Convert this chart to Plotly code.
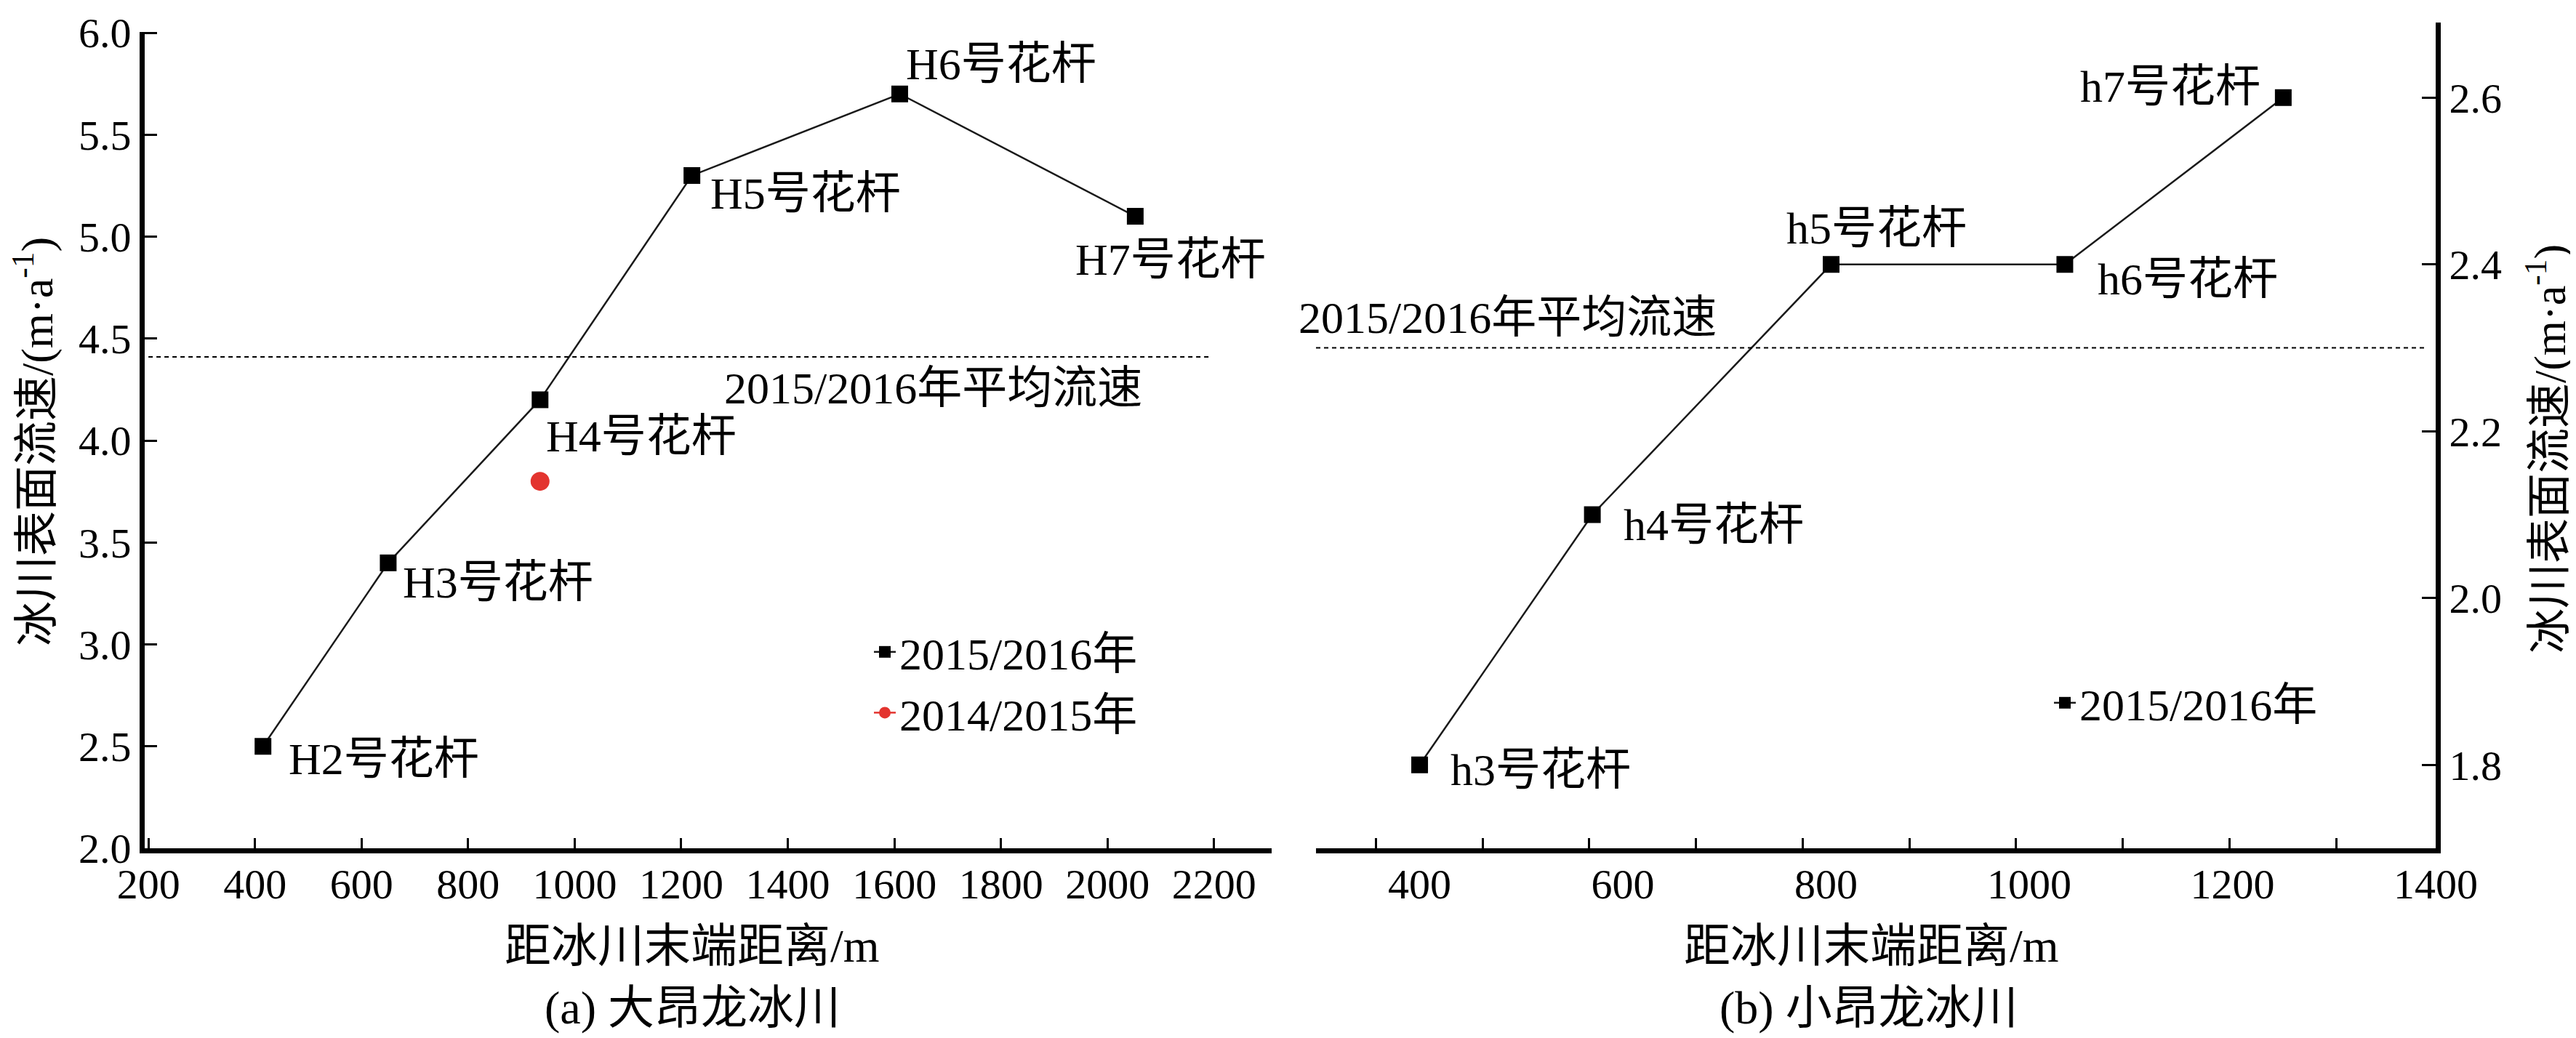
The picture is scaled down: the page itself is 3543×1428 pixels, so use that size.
import plotly.graph_objects as go

# ---------------- data ----------------
# (a) 大昂龙冰川
a_names = ["H2号花杆", "H3号花杆", "H4号花杆", "H5号花杆", "H6号花杆", "H7号花杆"]
a_dist = [415, 650, 935, 1220, 1610, 2052]
a_v1516 = [2.5, 3.4, 4.2, 5.3, 5.7, 5.1]
a_dist_1415 = [935]
a_v1415 = [3.8]
a_mean = 4.41
a_mean_x = [200, 2190]

# (b) 小昂龙冰川
b_names = ["h3号花杆", "h4号花杆", "h5号花杆", "h6号花杆", "h7号花杆"]
b_dist = [400, 570, 805, 1035, 1250]
b_v1516 = [1.8, 2.1, 2.4, 2.4, 2.6]
b_mean = 2.3
b_mean_x = [298, 1392]

a_xticks = list(range(200, 2201, 200))
b_xticks = list(range(400, 1401, 200))
a_yticks = [2.0, 2.5, 3.0, 3.5, 4.0, 4.5, 5.0, 5.5, 6.0]
b_yticks = [1.8, 2.0, 2.2, 2.4, 2.6]

# ---------------- style ----------------
W, H = 3543, 1428
FONT = "Liberation Serif, Noto Sans CJK SC, serif"
FS = 62
TFS = 64
TICKFS = 58
AXW = 7
BOTTOM = 1159

a_label_off = [("left", 33, -17), ("left", 18, -27), ("left", 6, -50),
               ("left", 23, -25), ("left", 7, 41), ("left", -84, -59)]
b_label_off = [("left", 40, -7), ("left", 41, -14), ("left", -64, 50),
               ("left", 43, -20), ("right", -29, 15)]

fig = go.Figure()

line_style = dict(color="#1a1a1a", width=2.5)
sq = dict(symbol="square", size=23, color="black")

fig.add_trace(go.Scatter(x=a_dist, y=a_v1516, mode="lines+markers", name="2015/2016年",
                         line=line_style, marker=sq, xaxis="x", yaxis="y", legend="legend"))
fig.add_trace(go.Scatter(x=a_dist_1415, y=a_v1415, mode="lines+markers", name="2014/2015年",
                         line=dict(color="#e3342f", width=2.5),
                         marker=dict(symbol="circle", size=26, color="#e3342f"),
                         xaxis="x", yaxis="y", legend="legend"))
fig.add_trace(go.Scatter(x=a_mean_x, y=[a_mean, a_mean], mode="lines", showlegend=False,
                         line=dict(color="black", width=2, dash="6px,5px"),
                         xaxis="x", yaxis="y", hoverinfo="skip"))

fig.add_trace(go.Scatter(x=b_dist, y=b_v1516, mode="lines+markers", name="2015/2016年",
                         line=line_style, marker=sq, xaxis="x2", yaxis="y2", legend="legend2"))
fig.add_trace(go.Scatter(x=b_mean_x, y=[b_mean, b_mean], mode="lines", showlegend=False,
                         line=dict(color="black", width=2, dash="6px,5px"),
                         xaxis="x2", yaxis="y2", hoverinfo="skip"))

ann = []
for n, xv, yv, (xa, dx, dy) in zip(a_names, a_dist, a_v1516, a_label_off):
    ann.append(dict(x=xv, y=yv, xref="x", yref="y", text=n, showarrow=False,
                    xanchor=xa, yanchor="middle", xshift=dx, yshift=dy,
                    font=dict(family=FONT, size=FS, color="black")))
for n, xv, yv, (xa, dx, dy) in zip(b_names, b_dist, b_v1516, b_label_off):
    ann.append(dict(x=xv, y=yv, xref="x2", yref="y2", text=n, showarrow=False,
                    xanchor=xa, yanchor="middle", xshift=dx, yshift=dy,
                    font=dict(family=FONT, size=FS, color="black")))

ann.append(dict(x=1278, y=a_mean, xref="x", yref="y", text="2015/2016年平均流速",
                showarrow=False, xanchor="left", yanchor="middle", yshift=-43,
                font=dict(family=FONT, size=FS, color="black")))
ann.append(dict(x=300, y=b_mean, xref="x2", yref="y2", text="2015/2016年平均流速",
                showarrow=False, xanchor="left", yanchor="middle", xshift=-29, yshift=42,
                font=dict(family=FONT, size=FS, color="black")))

ytitle = "冰川表面流速/(m·a<sup>-1</sup>)"
ann.append(dict(x=38 / W, y=1 - 600 / H, xref="paper", yref="paper", text=ytitle,
                textangle=-90, showarrow=False, xanchor="center", yanchor="middle",
                font=dict(family=FONT, size=FS, color="black")))
ann.append(dict(x=3494 / W, y=1 - 610 / H, xref="paper", yref="paper", text=ytitle,
                textangle=-90, showarrow=False, xanchor="center", yanchor="middle",
                font=dict(family=FONT, size=FS, color="black")))
for xc, t in [(944, "距冰川末端距离/m"), (2566, "距冰川末端距离/m")]:
    ann.append(dict(x=xc / W, y=1 - 1293 / H, xref="paper", yref="paper", text=t,
                    showarrow=False, xanchor="center", yanchor="middle",
                    font=dict(family=FONT, size=TFS, color="black")))
for xc, t in [(944, "(a) 大昂龙冰川"), (2562, "(b) 小昂龙冰川")]:
    ann.append(dict(x=xc / W, y=1 - 1378 / H, xref="paper", yref="paper", text=t,
                    showarrow=False, xanchor="center", yanchor="middle",
                    font=dict(family=FONT, size=TFS, color="black")))

tickfont = dict(family=FONT, size=TICKFS, color="black")
common = dict(showgrid=False, zeroline=False, showline=True, linecolor="black",
              linewidth=AXW, ticks="inside", tickcolor="black", tickwidth=3,
              tickfont=tickfont, mirror=False, automargin=False,
              ticklabeloverflow="allow")

fig.update_layout(
    width=W, height=H, autosize=False,
    margin=dict(l=0, r=0, t=0, b=0, pad=0, autoexpand=False),
    paper_bgcolor="white", plot_bgcolor="white",
    font=dict(family=FONT, size=FS, color="black"),
    xaxis=dict(domain=[191 / W, 1741 / W], range=[193, 2308], anchor="y",
               tickvals=a_xticks, ticklen=14, ticklabelstandoff=-8, **common),
    yaxis=dict(domain=[1 - BOTTOM / H, 1 - 36 / H], range=[2.0, 6.004], anchor="x",
               tickvals=a_yticks, tickformat=".1f", ticklen=17, **common),
    xaxis2=dict(domain=[1802 / W, 3342 / W], range=[298, 1400], anchor="y2",
                tickvals=b_xticks, ticklen=0, ticklabelstandoff=-8,
                minor=dict(tick0=357, dtick=105, ticks="inside", ticklen=14,
                           tickwidth=3, tickcolor="black"),
                **common),
    yaxis2=dict(domain=[1 - BOTTOM / H, 1 - 23 / H], range=[1.7, 2.69], anchor="x2",
                side="right", tickvals=b_yticks, tickformat=".1f", ticklen=19, **common),
    legend=dict(x=1189 / W, y=1 - 842 / H, xanchor="left", yanchor="top",
                font=dict(family=FONT, size=FS, color="black"),
                bgcolor="rgba(0,0,0,0)", borderwidth=0, itemwidth=30,
                tracegroupgap=0),
    legend2=dict(x=2812 / W, y=1 - 912 / H, xanchor="left", yanchor="top",
                 font=dict(family=FONT, size=FS, color="black"),
                 bgcolor="rgba(0,0,0,0)", borderwidth=0, itemwidth=30),
    annotations=ann,
    showlegend=True,
)

fig.write_html("out.html")
